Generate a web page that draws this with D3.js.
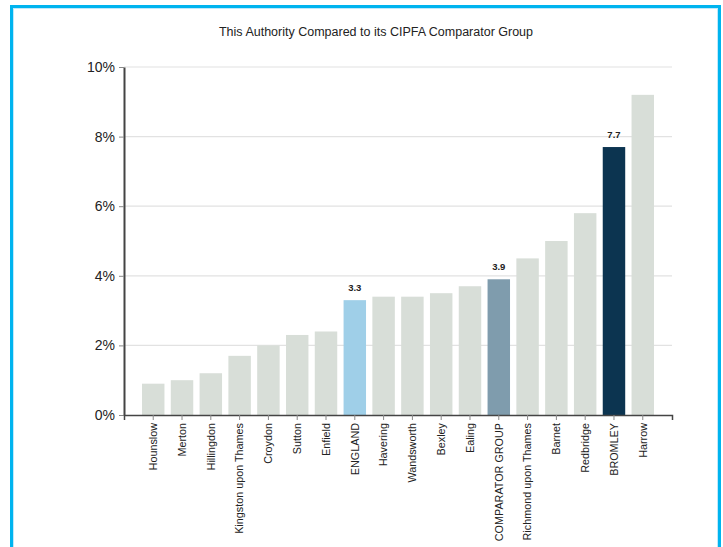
<!DOCTYPE html>
<html>
<head>
<meta charset="utf-8">
<script src="https://cdn.jsdelivr.net/npm/d3@7"></script>
<style>
  html, body { margin: 0; padding: 0; background: #fff; }
  svg { display: block; font-family: "Liberation Sans", Arial, sans-serif; }
</style>
</head>
<body>
<svg id="chart" width="723" height="547"></svg>
<script>
// Authorities in ascending order of value (%)
const categories = [
  "Hounslow", "Merton", "Hillingdon", "Kingston upon Thames", "Croydon",
  "Sutton", "Enfield", "ENGLAND", "Havering", "Wandsworth", "Bexley",
  "Ealing", "COMPARATOR GROUP", "Richmond upon Thames", "Barnet",
  "Redbridge", "BROMLEY", "Harrow"
];
const values = [0.9, 1.0, 1.2, 1.7, 2.0, 2.3, 2.4, 3.3, 3.4, 3.4, 3.5, 3.7, 3.9, 4.5, 5.0, 5.8, 7.7, 9.2];
const yTicks = [0, 2, 4, 6, 8, 10];
// Highlighted bars get their own colour and a value label
const highlights = ["ENGLAND", "COMPARATOR GROUP", "BROMLEY"];
const highlightColours = ["#9fcfe8", "#7f9cad", "#0c3450"];
const title = "This Authority Compared to its CIPFA Comparator Group";

const svg = d3.select("#chart");

// Outer frame
svg.append("rect")
  .attr("x", 11.5).attr("y", 6.5)
  .attr("width", 708).attr("height", 600)
  .attr("fill", "none").attr("stroke", "#00b4ef").attr("stroke-width", 3);
svg.append("rect")
  .attr("x", 13.5).attr("y", 8.5)
  .attr("width", 704).attr("height", 600)
  .attr("fill", "none").attr("stroke", "#bfe9fb").attr("stroke-width", 1);

svg.append("text")
  .attr("x", 376).attr("y", 36)
  .attr("text-anchor", "middle")
  .attr("font-size", 12.5).attr("fill", "#222")
  .text(title);

const plotLeft = 124, plotRight = 672, plotTop = 67, plotBottom = 415;

const x = d3.scaleBand().domain(categories)
  .range([plotLeft, plotRight]).paddingInner(0.22).paddingOuter(0.625);
const y = d3.scaleLinear().domain([0, 10]).range([plotBottom, plotTop]);

// Gridlines
svg.append("g").selectAll("line").data(yTicks.filter(d => d > 0)).join("line")
  .attr("x1", plotLeft).attr("x2", plotRight)
  .attr("y1", d => y(d)).attr("y2", d => y(d))
  .attr("stroke", "#e2e2e2").attr("stroke-width", 1.2);

// Bars
const colourOf = c => {
  const i = highlights.indexOf(c);
  return i >= 0 ? highlightColours[i] : "#d8ded8";
};
svg.append("g").selectAll("rect").data(categories).join("rect")
  .attr("x", d => x(d)).attr("width", x.bandwidth())
  .attr("y", (d, i) => y(values[i]))
  .attr("height", (d, i) => y(0) - y(values[i]))
  .attr("fill", d => colourOf(d));

// Value labels on highlighted bars
svg.append("g").selectAll("text")
  .data(categories.map((c, i) => ({c, v: values[i]})).filter(d => highlights.includes(d.c)))
  .join("text")
  .attr("x", d => x(d.c) + x.bandwidth() / 2)
  .attr("y", d => y(d.v) - 9)
  .attr("text-anchor", "middle")
  .attr("font-size", 9.5).attr("font-weight", "bold").attr("fill", "#222")
  .text(d => d.v.toFixed(1));

// Y axis
const yAxis = svg.append("g").attr("transform", `translate(${plotLeft},0)`)
  .call(d3.axisLeft(y).tickValues(yTicks).tickFormat(d => d + "%").tickSize(5).tickSizeOuter(0).tickPadding(4));
yAxis.select(".domain").attr("stroke", "#444").attr("stroke-width", 2);
yAxis.selectAll(".tick line").attr("stroke", "#888");
yAxis.selectAll(".tick text").attr("font-size", 14).attr("fill", "#222")
  .attr("font-family", "Liberation Sans, Arial, sans-serif");

// X axis
const xAxis = svg.append("g").attr("transform", `translate(0,${plotBottom})`)
  .call(d3.axisBottom(x).tickSize(5).tickSizeOuter(5).tickPadding(3));
xAxis.select(".domain").attr("stroke", "#444").attr("stroke-width", 1.5);
xAxis.selectAll(".tick line").attr("stroke", "#888");
xAxis.selectAll(".tick text")
  .attr("font-size", 10.8).attr("fill", "#222")
  .attr("font-family", "Liberation Sans, Arial, sans-serif")
  .attr("transform", "rotate(-90)")
  .attr("text-anchor", "end")
  .attr("x", -8).attr("y", 0).attr("dy", "0.35em");
</script>
</body>
</html>
